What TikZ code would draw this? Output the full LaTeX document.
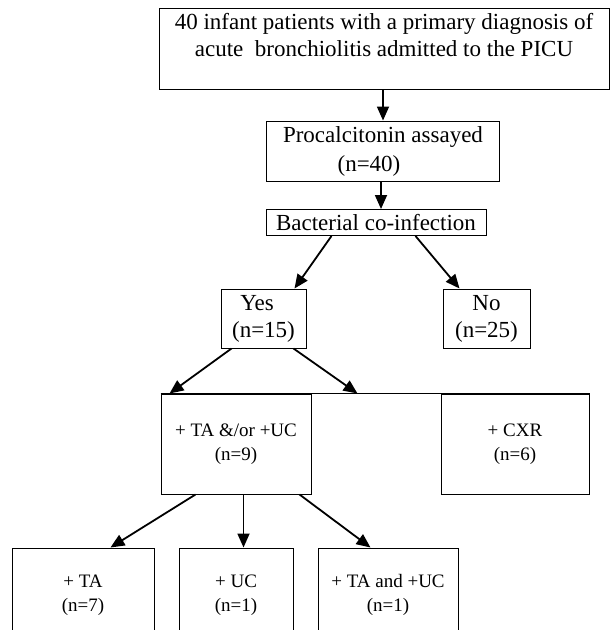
\documentclass[tikz,border=0pt]{standalone}
\usepackage{fontspec}
\setmainfont{Liberation Serif}
\usetikzlibrary{arrows.meta}

\begin{document}
\begin{tikzpicture}[x = 1pt, y = -1pt, >={Triangle[length=14pt, width=12pt]},
  box/.style = {draw, line width = 1pt, inner sep = 0pt, align = center,
    font = \fontsize{23}{27}\selectfont},
  smallbox/.style = {box, font = \fontsize{19}{24}\selectfont},
  link/.style = {->, line width = 1.8pt}]
\useasboundingbox (0, 0) rectangle (610, 630);
\clip (0, 0) rectangle (610, 630);

\node [box, minimum width = 450pt, minimum height = 81pt] (intake) at (384, 48.5)
  {40 infant patients with a primary diagnosis of\\ acute\ \ bronchiolitis admitted to the PICU\\ ~};
\node [box, minimum width = 233pt, minimum height = 60pt] (proc) at (383, 151)
  {Procalcitonin assayed\\[2pt] (n=40)\hspace*{28pt}};
\node [box, minimum width = 220pt, minimum height = 26pt] (bact) at (376, 222.5)
  {Bacterial co-infection};

\node [box, minimum width = 85pt, minimum height = 59pt] (yes) at (263.5, 318.5) {Yes\hspace*{13pt}\\ (n=15)};
\node [box, minimum width = 87pt, minimum height = 59pt] (no) at (486.5, 318.5) {No\\ (n=25)};

\node [smallbox, minimum width = 150pt, minimum height = 100pt] (either) at (236, 444)
  {+ TA \&/or +UC\\ (n=9)};
\node [smallbox, minimum width = 148pt, minimum height = 100pt] (cxr) at (515, 444)
  {+ CXR\\ (n=6)};
\draw [line width = 1pt] (either.north west) -- (cxr.north east);

\node [smallbox, minimum width = 142pt, minimum height = 94pt] (ta) at (83, 595) {+ TA\\ (n=7)};
\node [smallbox, minimum width = 114pt, minimum height = 94pt] (uc) at (236, 595) {+ UC\\ (n=1)};
\node [smallbox, minimum width = 140pt, minimum height = 94pt] (tauc) at (388, 595) {+ TA and +UC\\ (n=1)};

\draw [link] (proc.north |- intake.south) -- (proc.north);
\draw [link] ([xshift = -2pt]proc.south) -- ([xshift = -2pt]proc.south |- bact.north);
\draw [link] ([xshift = 66pt]bact.south west) -- ([xshift = 74pt]yes.north west);
\draw [link] ([xshift = -71pt]bact.south east) -- ([xshift = 17pt]no.north west);
\draw [link] ([xshift = 11pt]yes.south west) -- ([xshift = 9pt]either.north west);
\draw [link] ([xshift = -13pt]yes.south east) -- ([xshift = 46pt]either.north east);
\draw [link] ([xshift = 35pt]either.south west) -- ([xshift = 99pt]ta.north west);
\draw [link] ([xshift = 83pt]either.south west) -- ([xshift = 65pt]uc.north west);
\draw [link] ([xshift = -12pt]either.south east) -- ([xshift = 53pt]tauc.north west);
\end{tikzpicture}
\end{document}
